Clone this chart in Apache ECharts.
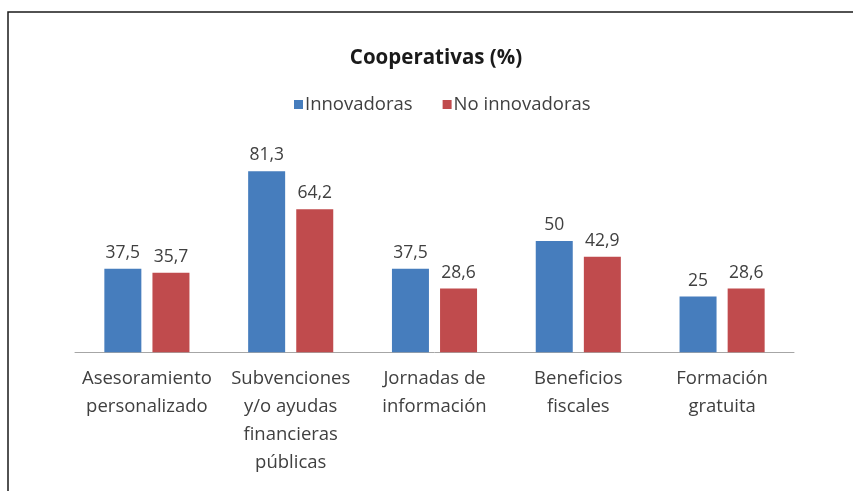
<!DOCTYPE html>
<html>
<head>
<meta charset="utf-8">
<script src="https://cdn.jsdelivr.net/npm/echarts@6/dist/echarts.min.js"></script>
<style>
  html, body { margin: 0; padding: 0; background: #ffffff; }
  #chart { width: 853px; height: 491px; }
</style>
</head>
<body>
<div id="chart"></div>
<script>
// Chart content
const titleText = 'Cooperativas (%)';
const categories = [
  'Asesoramiento\npersonalizado',
  'Subvenciones\ny/o ayudas\nfinancieras\npúblicas',
  'Jornadas de\ninformación',
  'Beneficios\nfiscales',
  'Formación\ngratuita'
];
const seriesNames = ['Innovadoras', 'No innovadoras'];
const innovadoras = [37.5, 81.3, 37.5, 50, 25];
const noInnovadoras = [35.7, 64.2, 28.6, 42.9, 28.6];

const FONT = '"Open Sans", "Noto Sans", sans-serif';
const TEXT = '#404040';
const BLUE = '#467dbd';
const RED = '#c04b4d';

// Decimal comma as in Spanish notation
const fmt = v => String(v).replace('.', ',');

const chart = echarts.init(document.getElementById('chart'), null, { renderer: 'canvas' });

const labelStyle = {
  show: true,
  position: 'top',
  distance: 7,
  color: TEXT,
  fontFamily: FONT,
  fontSize: 17.5,
  formatter: p => fmt(p.value)
};

chart.setOption({
  backgroundColor: '#ffffff',
  animation: false,
  title: {
    text: titleText,
    left: 431,
    textAlign: 'center',
    top: 43,
    textStyle: { fontFamily: FONT, fontWeight: 'bold', fontSize: 20.5, color: '#1a1a1a' }
  },
  legend: {
    data: seriesNames,
    left: 289,
    top: 90,
    icon: 'rect',
    itemWidth: 9,
    itemHeight: 9,
    itemGap: 30,
    textStyle: { fontFamily: FONT, fontSize: 18.5, color: TEXT, padding: [0, 0, 0, -3] }
  },
  grid: { left: 75, right: 59, top: 129.5, bottom: 138.7, containLabel: false },
  xAxis: {
    type: 'category',
    data: categories,
    axisLine: { show: true, lineStyle: { color: '#a6a6a6', width: 1 } },
    axisTick: { show: false },
    axisLabel: {
      interval: 0,
      margin: 12,
      color: TEXT,
      fontFamily: FONT,
      fontSize: 18.5,
      lineHeight: 28,
      align: 'center'
    }
  },
  yAxis: {
    type: 'value',
    min: 0,
    max: 100,
    show: false,
    splitLine: { show: false }
  },
  series: [
    {
      name: seriesNames[0],
      type: 'bar',
      data: innovadoras,
      barWidth: 37,
      barGap: '30%',
      itemStyle: { color: BLUE },
      label: labelStyle
    },
    {
      name: seriesNames[1],
      type: 'bar',
      data: noInnovadoras,
      barWidth: 37,
      barGap: '30%',
      itemStyle: { color: RED },
      label: labelStyle
    }
  ],
  graphic: [
    {
      type: 'rect',
      shape: { x: 8, y: 12, width: 870, height: 500 },
      style: { fill: null, stroke: '#1a1a1a', lineWidth: 1.5 },
      silent: true,
      z: 100
    }
  ]
});
</script>
</body>
</html>
